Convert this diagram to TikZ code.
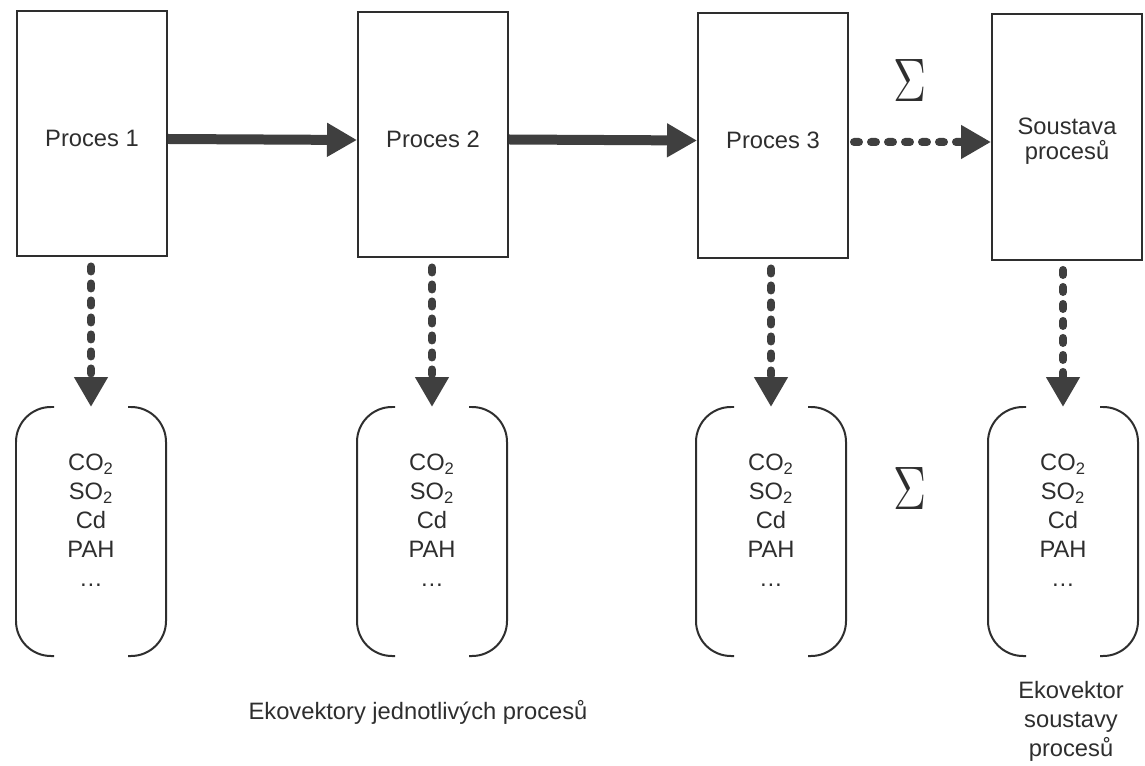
\documentclass[tikz,border=0pt]{standalone}
\usepackage{fontspec}
\setmainfont{Liberation Sans}
\usepackage{graphicx}
\usetikzlibrary{arrows.meta, positioning}
\definecolor{ink}{HTML}{2E2E2E}
\definecolor{flowgray}{HTML}{3F3F3F}

\begin{document}
\begin{tikzpicture}[x=0.02cm, y=-0.02cm,
    font=\fontsize{13.5}{16.5}\selectfont, text=ink,
    procbox/.style={draw=ink, line width=0.04cm, minimum width=3cm, minimum height=4.92cm},
    proctext/.style={align=center, font=\fontsize{13.5}{14}\selectfont},
    vecbox/.style={align=center, inner sep=0pt},
    sumsign/.style={inner sep=0pt},
    paren/.style={draw=ink, line width=0.04cm, rounded corners=0.7cm},
    flow/.style={flowgray, line width=0.2cm, -{Triangle[length=0.6cm, width=0.64cm]}},
    dashflow/.style={flow, line width=0.16cm, line cap=round, dash pattern=on 0.1cm off 0.24cm}
]
\useasboundingbox (0,0) rectangle (1145,766);

\node[procbox] (p1) at (92,133.5) {};
\node[procbox] (p2) at (433,134.5) {};
\node[procbox] (p3) at (773,135.5) {};
\node[procbox] (p4) at (1067,137) {};
\node[proctext] (l1) at ([yshift=-0.1cm]p1.center) {Proces 1};
\node[proctext] (l2) at ([yshift=-0.1cm]p2.center) {Proces 2};
\node[proctext] (l3) at ([yshift=-0.1cm]p3.center) {Proces 3};
\node[proctext] (l4) at ([yshift=-0.08cm]p4.center) {Soustava\\procesů};

\draw[flow] ([yshift=-0.11cm]p1.east) -- ([yshift=-0.11cm]p2.west);
\draw[flow] ([yshift=-0.1cm]p2.east) -- ([yshift=-0.1cm]p3.west);
\draw[dashflow, shorten <=0.1cm] ([yshift=-0.13cm]p3.east) -- ([yshift=-0.1cm]p4.west);

\node[sumsign] (s1) at (910,81) {\resizebox{0.66cm}{0.84cm}{$\Sigma$}};
\node[sumsign] (s2) at (910,489) {\resizebox{0.66cm}{0.84cm}{$\Sigma$}};

\foreach \n/\x in {1/91, 2/432, 3/771, 4/1063}{
    \node[vecbox] (v\n) at (\x,520) {CO\textsubscript{2}\\SO\textsubscript{2}\\Cd\\PAH\\\dots};
    \coordinate (t\n) at (\x,407);
    \draw[paren] (\x-37,407) -- (\x-75,407) -- (\x-75,656) -- (\x-37,656);
    \draw[paren] (\x+37,407) -- (\x+75,407) -- (\x+75,656) -- (\x+37,656);
    \draw[dashflow, shorten <=0.18cm] (t\n |- p\n.south) -- (t\n);
}

\node[align=center] (lab1) at (418,712.5) {Ekovektory jednotlivých procesů};
\node[align=center] (lab2) at (1071,721) {Ekovektor\\soustavy\\procesů};
\end{tikzpicture}
\end{document}
